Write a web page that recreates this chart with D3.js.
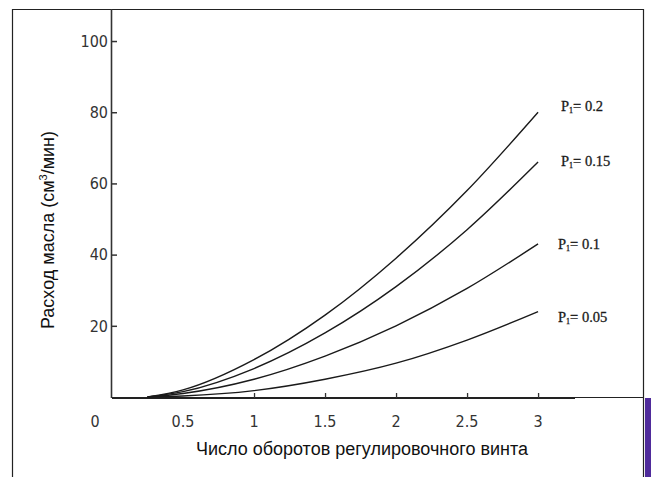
<!DOCTYPE html>
<html>
<head>
<meta charset="utf-8">
<script src="https://cdn.jsdelivr.net/npm/d3@7"></script>
<style>
  body { margin: 0; background: #fff; }
  svg { display: block; }
</style>
</head>
<body>
<svg></svg>
<script>
// Расход масла в зависимости от числа оборотов регулировочного винта
// Значения сняты с картинки на глаз

var oboroty = [0.25, 0.5, 1, 1.5, 2, 2.5, 3];
var p020 = [0, 2, 10.5, 23, 39, 58, 80];
var p015 = [0, 1.5, 8, 18, 31, 47, 66];
var p010 = [0, 1, 5, 11.5, 20, 30.5, 43];
var p005 = [0, 0.3, 1.8, 5, 9.5, 16, 24];

var podpisi = ["0.2", "0.15", "0.1", "0.05"];
var xTicks = [0.5, 1, 1.5, 2, 2.5, 3];
var xTickLabels = ["0.5", "1", "1.5", "2", "2.5", "3"];
var yTicks = [20, 40, 60, 80, 100];

var serii = [p020, p015, p010, p005];
// где стоят подписи кривых (в единицах оси Y)
var podpisiY = [81.8, 66.3, 43, 22.6];

var svgWidth = 651, svgHeight = 477;

var svg = d3.select("svg")
    .attr("width", svgWidth)
    .attr("height", svgHeight);

// масштабы: 0 по x в 112px, 0 по y в 397px
var xScale = d3.scaleLinear()
    .domain([0, 3.26])
    .range([112, 575]);

var yScale = d3.scaleLinear()
    .domain([0, 109])
    .range([397, 9]);

// рамка вокруг рисунка
svg.append("path")
    .attr("d", "M12.5,480 V9.5 H643.5 V480")
    .attr("fill", "none")
    .attr("stroke", "#222")
    .attr("stroke-width", 1.2);

// фиолетовая полоска справа внизу
svg.append("rect")
    .attr("x", 645).attr("y", 398)
    .attr("width", 6).attr("height", 79)
    .attr("fill", "#4f2b9b");

// горизонтальная линия оси до рамки
svg.append("line")
    .attr("x1", 111).attr("x2", 643.5)
    .attr("y1", 397.5).attr("y2", 397.5)
    .attr("stroke", "#222").attr("stroke-width", 1);

// ось Y
var eje_y = d3.axisRight(yScale)
    .tickValues(yTicks)
    .tickSize(6)
    .tickFormat("");

var gy = svg.append("g")
    .attr("transform", "translate(111,0)")
    .call(eje_y);
gy.select(".domain").attr("d", "M0.5,9 V398").attr("stroke", "#333").attr("stroke-width", 1.6);
gy.selectAll(".tick line").attr("stroke", "#333").attr("stroke-width", 1.5);

svg.selectAll(".ylab")
    .data(yTicks)
    .enter()
    .append("text")
    .attr("class", "ylab")
    .attr("x", 108)
    .attr("y", function (d) { return yScale(d); })
    .attr("dy", "0.36em")
    .attr("text-anchor", "end")
    .attr("font-family", "'Liberation Sans Narrow', 'DejaVu Sans Condensed', sans-serif")
    .attr("font-size", 16)
    .attr("fill", "#333")
    .text(function (d) { return d; });

// ось X: засечки вверх
var eje_x = d3.axisTop(xScale)
    .tickValues(xTicks.filter(function (d) { return d >= 1; }))
    .tickSize(5)
    .tickFormat("");

var gx = svg.append("g")
    .attr("transform", "translate(0,398)")
    .call(eje_x);
gx.select(".domain").attr("d", "M112,0 H575").attr("stroke", "#222").attr("stroke-width", 2);
gx.selectAll(".tick line").attr("stroke", "#333").attr("stroke-width", 1.3);

svg.selectAll(".xlab")
    .data(xTicks)
    .enter()
    .append("text")
    .attr("class", "xlab")
    .attr("x", function (d) { return xScale(d); })
    .attr("y", 427)
    .attr("text-anchor", "middle")
    .attr("font-family", "'Liberation Sans Narrow', 'DejaVu Sans Condensed', sans-serif")
    .attr("font-size", 16)
    .attr("fill", "#333")
    .text(function (d, i) { return xTickLabels[i]; });

svg.append("text")
    .attr("x", 95).attr("y", 427)
    .attr("text-anchor", "middle")
    .attr("font-family", "'Liberation Sans Narrow', 'DejaVu Sans Condensed', sans-serif")
    .attr("font-size", 16)
    .attr("fill", "#333")
    .text("0");

// кривые
var line = d3.line()
    .x(function (d) { return xScale(d[0]); })
    .y(function (d) { return yScale(d[1]); })
    .curve(d3.curveMonotoneX);

serii.forEach(function (s) {
    var pts = oboroty.map(function (x, i) { return [x, s[i]]; });
    svg.append("path")
        .attr("d", line(pts))
        .attr("fill", "none")
        .attr("stroke", "#1a1a1a")
        .attr("stroke-width", 1.4);
});

// подписи кривых
serii.forEach(function (s, i) {
    var t = svg.append("text")
        .attr("x", i < 2 ? 561 : 558)
        .attr("y", yScale(podpisiY[i]))
        .attr("dy", "0.35em")
        .attr("font-family", "'Liberation Serif', 'DejaVu Serif', serif")
        .attr("font-size", 14.5)
        .attr("fill", "#1a1a1a")
        .attr("stroke", "#1a1a1a")
        .attr("stroke-width", 0.3);
    t.append("tspan").text("P");
    t.append("tspan").attr("font-size", 8).attr("dy", 2).text("1");
    t.append("tspan").attr("dy", -2).text("= " + podpisi[i]);
});

// подписи осей
svg.append("text")
    .attr("x", 362).attr("y", 455)
    .attr("text-anchor", "middle")
    .attr("font-family", "'Liberation Sans', Arial, sans-serif")
    .attr("font-size", 18)
    .attr("fill", "#111")
    .text("Число оборотов регулировочного винта");

var yt = svg.append("text")
    .attr("transform", "translate(54,230) rotate(-90)")
    .attr("text-anchor", "middle")
    .attr("font-family", "'Liberation Sans', Arial, sans-serif")
    .attr("font-size", 18)
    .attr("fill", "#111");
yt.append("tspan").text("Расход масла (см");
yt.append("tspan").attr("font-size", 11).attr("dy", -7).text("3");
yt.append("tspan").attr("dy", 7).text("/мин)");
</script>
</body>
</html>
